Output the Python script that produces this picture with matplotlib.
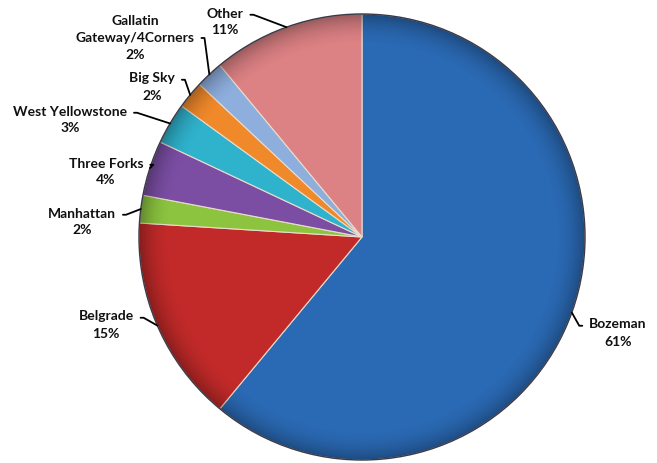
import numpy as np
import matplotlib.pyplot as plt
from matplotlib.patches import Circle

# shares by community, clockwise from 12 o'clock
communities = ['Bozeman', 'Belgrade', 'Manhattan', 'Three Forks', 'West Yellowstone',
               'Big Sky', 'Gallatin\nGateway/4Corners', 'Other']
shares = [61, 15, 2, 4, 3, 2, 2, 11]
colors = ['#2a69b3', '#c12a29', '#8cc43f', '#7b4ea4', '#2fb2cc',
          '#f0892a', '#8eaede', '#dc8184']

# label block centres (pixel coords, y down)
label_pos = [(618, 333), (106, 325), (82, 222), (106, 172), (70, 120),
             (152, 87), (135, 38), (225, 22)]
W, H = 657, 463
cx, cy, R = 362, 237, 223

plt.rcParams['font.family'] = ['Lato', 'DejaVu Sans']

fig = plt.figure(figsize=(W / 100, H / 100), dpi=100)
ax = fig.add_axes([0, 0, 1, 1])

wedges, _ = ax.pie(shares, colors=colors, startangle=90, counterclock=False,
                   center=(cx, H - cy), radius=R,
                   wedgeprops=dict(edgecolor='#eadccc', linewidth=0.8))
ax.add_patch(Circle((cx, H - cy), R, fill=False, edgecolor='#3a3a4a', lw=1.0, zorder=4))

# soft shading toward the rim to mimic the bevelled look
yy, xx = np.mgrid[0:H, 0:W]
rr = np.hypot(xx - cx, yy - cy) / R
shade = np.zeros((H, W, 4))
shade[..., 3] = np.clip((rr - 0.86) / 0.14, 0, 1) ** 2 * 0.3
img = ax.imshow(shade, extent=(0, W, 0, H), origin='upper', zorder=3)
img.set_clip_path(Circle((cx, H - cy), R, transform=ax.transData))
ax.set_xlim(0, W)
ax.set_ylim(0, H)
ax.set_aspect('equal')
ax.axis('off')

for w, name, share, (tx, ty) in zip(wedges, communities, shares, label_pos):
    mid = np.deg2rad((w.theta1 + w.theta2) / 2)
    px = cx + R * np.cos(mid)
    py = (H - cy) + R * np.sin(mid)
    right = tx > cx
    nlines = name.count('\n') + 2
    rely = 1 - 0.5 / nlines
    if '\n' in name:
        rely = 1 - 1.5 / nlines
    ax.annotate(f'{name}\n{share}%', xy=(px, py), xytext=(tx, H - ty),
                ha='center', va='center', fontsize=10, fontweight='bold',
                linespacing=1.5, color='#111111', zorder=5,
                arrowprops=dict(arrowstyle='-', color='black', lw=1.3,
                                shrinkA=3, shrinkB=0,
                                relpos=(0 if right else 1, rely),
                                connectionstyle=f'arc,angleA={180 if right else 0},'
                                                f'armA=10,angleB=0,armB=0,rad=0'))

fig.savefig('out.png', dpi=100)
